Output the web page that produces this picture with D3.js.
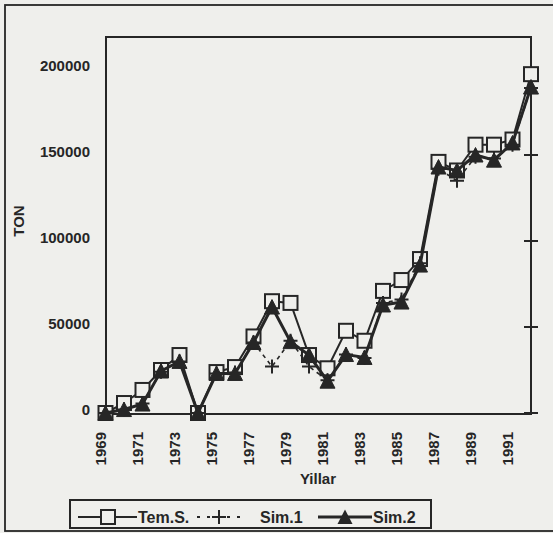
<!DOCTYPE html>
<html><head><meta charset="utf-8">
<script src="https://cdn.jsdelivr.net/npm/d3@7"></script>
<style>html,body{margin:0;padding:0;background:#efefec;}svg{display:block;}</style>
</head><body>
<svg id="c" width="553" height="533"></svg>
<script>
const years = [1969,1970,1971,1972,1973,1974,1975,1976,1977,1978,1979,1980,1981,1982,1983,1984,1985,1986,1987,1988,1989,1990,1991,1992];
const temS = [0,5800,13400,25000,33700,0,23800,26700,44500,65000,64000,33700,26000,47800,42000,71000,77300,89500,146000,141000,156000,156000,159000,197000];
const sim1 = [0,2000,5500,24000,30000,0,23000,23500,41000,27000,42000,27000,19000,34000,32000,64000,66000,87000,142000,135000,149000,148000,156000,189000];
const sim2 = [0,2000,5200,24400,30000,0,23000,23000,41000,61600,41500,33700,18500,34000,32300,62800,64500,86000,143000,141000,150000,147000,157000,189500];
const yTicks = [0,50000,100000,150000,200000];
const xTickYears = [1969,1971,1973,1975,1977,1979,1981,1983,1985,1987,1989,1991];
const seriesNames = ["Tem.S.","Sim.1","Sim.2"];

const ink = "#262626";
const paper = "#efefec";
const svg = d3.select("#c");
const font = "'Liberation Sans', Arial, sans-serif";

// outer frame
svg.append("rect").attr("x",5).attr("y",5).attr("width",600).attr("height",526)
  .attr("fill","none").attr("stroke",ink).attr("stroke-width",1.8);

const x = d3.scaleLinear().domain([1969,1992]).range([105.5,531]);
const y = d3.scaleLinear().domain([0,200000]).range([413,69]);
const L=106, R=531, T=37, B=414;

// plot box
svg.append("rect").attr("x",L).attr("y",T).attr("width",R-L).attr("height",B-T)
  .attr("fill","none").attr("stroke",ink).attr("stroke-width",2);

// right side ticks
svg.append("g").selectAll("line").data(yTicks).join("line")
  .attr("x1",R-7).attr("x2",R+7).attr("y1",d=>y(d)).attr("y2",d=>y(d))
  .attr("stroke",ink).attr("stroke-width",2);

// y tick labels
svg.append("g").selectAll("text").data(yTicks).join("text")
  .attr("x",90).attr("y",d=>y(d)-3).attr("dy","0.35em").attr("text-anchor","end")
  .attr("font-family",font).attr("font-weight","bold").attr("font-size",15).attr("fill",ink)
  .text(d=>d);

// x tick labels
svg.append("g").selectAll("text").data(xTickYears).join("text")
  .attr("transform",d=>`translate(${x(d)-5},432) rotate(-90)`)
  .attr("dy","0.35em").attr("text-anchor","end")
  .attr("font-family",font).attr("font-weight","bold").attr("font-size",15).attr("fill",ink)
  .text(d=>d);

// axis titles
svg.append("text").attr("transform","translate(19,221) rotate(-90)")
  .attr("dy","0.35em").attr("text-anchor","middle")
  .attr("font-family",font).attr("font-weight","bold").attr("font-size",15).attr("fill",ink).text("TON");
svg.append("text").attr("x",318).attr("y",479).attr("dy","0.35em").attr("text-anchor","middle")
  .attr("font-family",font).attr("font-weight","bold").attr("font-size",15).attr("fill",ink).text("Yillar");

const line = vals => d3.line().x((d,i)=>x(years[i])).y(d=>y(d))(vals);
const tri = "M0,-7.5L7.5,7L-7.5,7Z";
const plus = "M-7,0H7M0,-7V7";

// Tem.S.
svg.append("path").attr("d",line(temS)).attr("fill","none").attr("stroke",ink).attr("stroke-width",2);
svg.append("g").selectAll("rect").data(temS).join("rect")
  .attr("x",(d,i)=>x(years[i])-7).attr("y",d=>y(d)-7).attr("width",14).attr("height",14)
  .attr("fill",paper).attr("stroke",ink).attr("stroke-width",2);
// Sim.1
svg.append("path").attr("d",line(sim1)).attr("fill","none").attr("stroke",ink).attr("stroke-width",1.6).attr("stroke-dasharray","4,4");
svg.append("g").selectAll("path").data(sim1).join("path")
  .attr("transform",(d,i)=>`translate(${x(years[i])},${y(d)})`).attr("d",plus)
  .attr("stroke",ink).attr("stroke-width",2).attr("fill","none");
// Sim.2
svg.append("path").attr("d",line(sim2)).attr("fill","none").attr("stroke",ink).attr("stroke-width",3);
svg.append("g").selectAll("path").data(sim2).join("path")
  .attr("transform",(d,i)=>`translate(${x(years[i])},${y(d)})`).attr("d",tri)
  .attr("fill",ink).attr("stroke",ink).attr("stroke-width",1);

// legend
const lg = svg.append("g");
lg.append("rect").attr("x",70).attr("y",500).attr("width",361).attr("height",28)
  .attr("fill","none").attr("stroke",ink).attr("stroke-width",2);
const ly = 517;
lg.append("line").attr("x1",78).attr("x2",137).attr("y1",ly).attr("y2",ly).attr("stroke",ink).attr("stroke-width",2);
lg.append("rect").attr("x",101).attr("y",ly-7).attr("width",14).attr("height",14).attr("fill",paper).attr("stroke",ink).attr("stroke-width",2);
lg.append("line").attr("x1",197).attr("x2",246).attr("y1",ly).attr("y2",ly).attr("stroke",ink).attr("stroke-width",2).attr("stroke-dasharray","3,7");
lg.append("path").attr("transform",`translate(219,${ly})`).attr("d",plus).attr("stroke",ink).attr("stroke-width",2);
lg.append("line").attr("x1",318).attr("x2",372).attr("y1",ly).attr("y2",ly).attr("stroke",ink).attr("stroke-width",3);
lg.append("path").attr("transform",`translate(345,${ly})`).attr("d",tri).attr("fill",ink);
const lt = [[138,seriesNames[0]],[260,seriesNames[1]],[373,seriesNames[2]]];
lg.selectAll("text").data(lt).join("text").attr("x",d=>d[0]).attr("y",ly).attr("dy","0.35em")
  .attr("font-family",font).attr("font-weight","bold").attr("font-size",16).attr("fill",ink).text(d=>d[1]);
</script>
</body></html>
